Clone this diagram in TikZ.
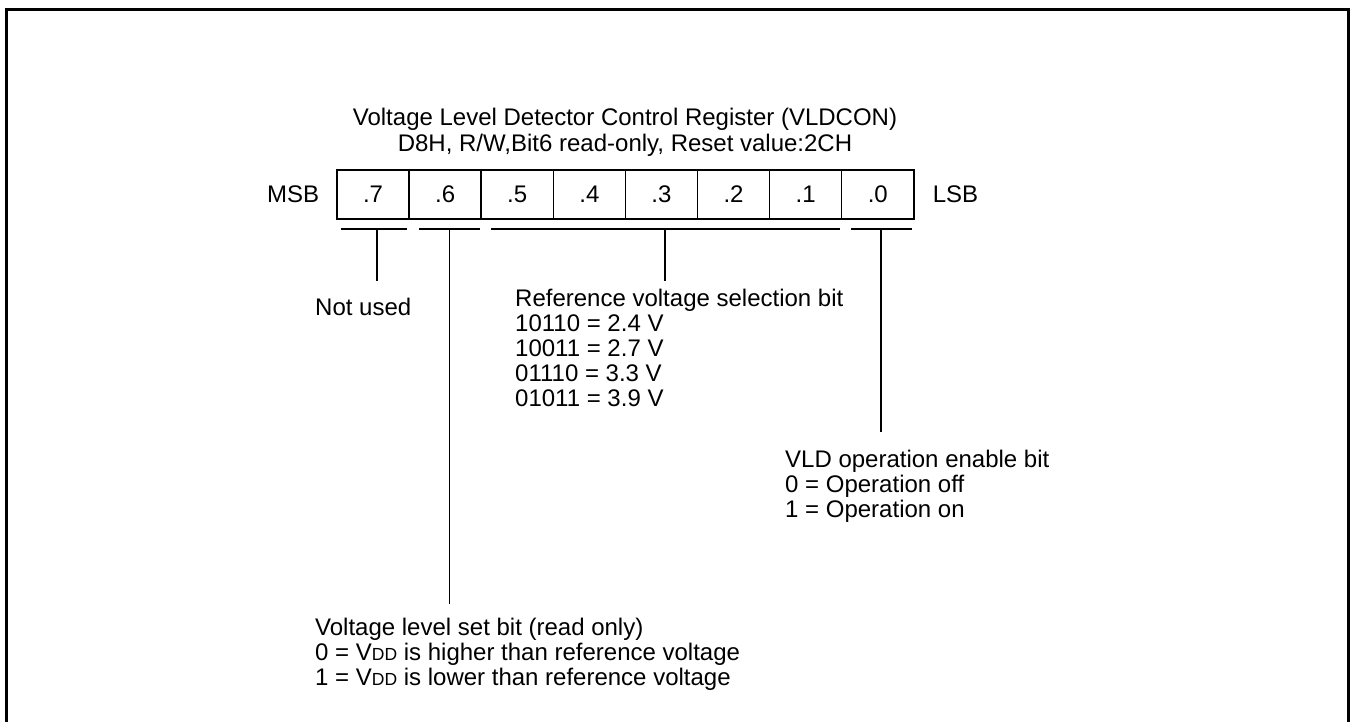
\documentclass[tikz,border=0pt]{standalone}
\usepackage{fontspec}
\setmainfont{Liberation Sans}
\usetikzlibrary{positioning}

\newcommand{\vddtxt}{V{\fontsize{17.5}{17.5}\selectfont DD}}

\begin{document}
\begin{tikzpicture}[
  x=1pt, y=-1pt,
  txt/.style={inner sep=0pt, font=\fontsize{24}{25}\selectfont},
  note/.style={txt, align=left, anchor=north west},
  cell/.style={rectangle, draw=black, line width=1.5pt, minimum width=72.1pt, minimum height=49pt, inner sep=0pt, font=\fontsize{24}{25}\selectfont},
  brace/.style={line width=1.5pt},
  stem/.style={line width=1.5pt},
  frame/.style={line width=3.2pt}
]
\useasboundingbox (0,0) rectangle (1355,722);

% Frame, open at the bottom
\draw[frame] (6.5,722) -- (6.5,9.5) -- (1348.5,9.5) -- (1348.5,722);

% Title
\node (title) [txt, align=center, anchor=north, font=\fontsize{24}{26}\selectfont] at (625,107.5) {Voltage Level Detector Control Register (VLDCON)\\D8H, R/W,Bit6 read-only, Reset value:2CH};

% Register
\foreach \b in {0,...,7}
  \node (bit\b) [cell] at ({337+72.1*(7-\b)+36.05},194.5) {.\b};
\node (msb) [txt, left=17pt of bit7] {MSB};
\node (lsb) [txt, right=18pt of bit0] {LSB};

% Field descriptions
\node (unused) [note] at (315,297.5) {Not used};
\node (refsel) [note] at (515,288.5) {Reference voltage selection bit\\10110 = 2.4 V\\10011 = 2.7 V\\01110 = 3.3 V\\01011 = 3.9 V};
\node (vlden) [note] at (785,449.5) {VLD operation enable bit\\0 = Operation off\\1 = Operation on};
\node (vlset) [note] at (315,617.5) {Voltage level set bit (read only)\\0 = \vddtxt{} is higher than reference voltage\\1 = \vddtxt{} is lower than reference voltage};

% Brackets under the fields
\draw[brace] (341,229) -- (407,229);
\draw[brace] (419,229) -- (480,229);
\draw[brace] (491,229) -- (840,229);
\draw[brace] (851,229) -- (912,229);

% Stems down to the descriptions
\coordinate (top7) at (377,229);
\coordinate (top6) at (449.5,229);
\coordinate (top51) at (665,229);
\coordinate (top0) at (881,229);
\coordinate (end7) at (377,281);
\coordinate (end6) at (449.5,604);
\coordinate (end51) at (665,281);
\coordinate (end0) at (881,432);
\draw[stem] (top7) -- (end7);
\draw[stem] (top6) -- (end6);
\draw[stem] (top51) -- (end51);
\draw[stem] (top0) -- (end0);
\end{tikzpicture}
\end{document}
